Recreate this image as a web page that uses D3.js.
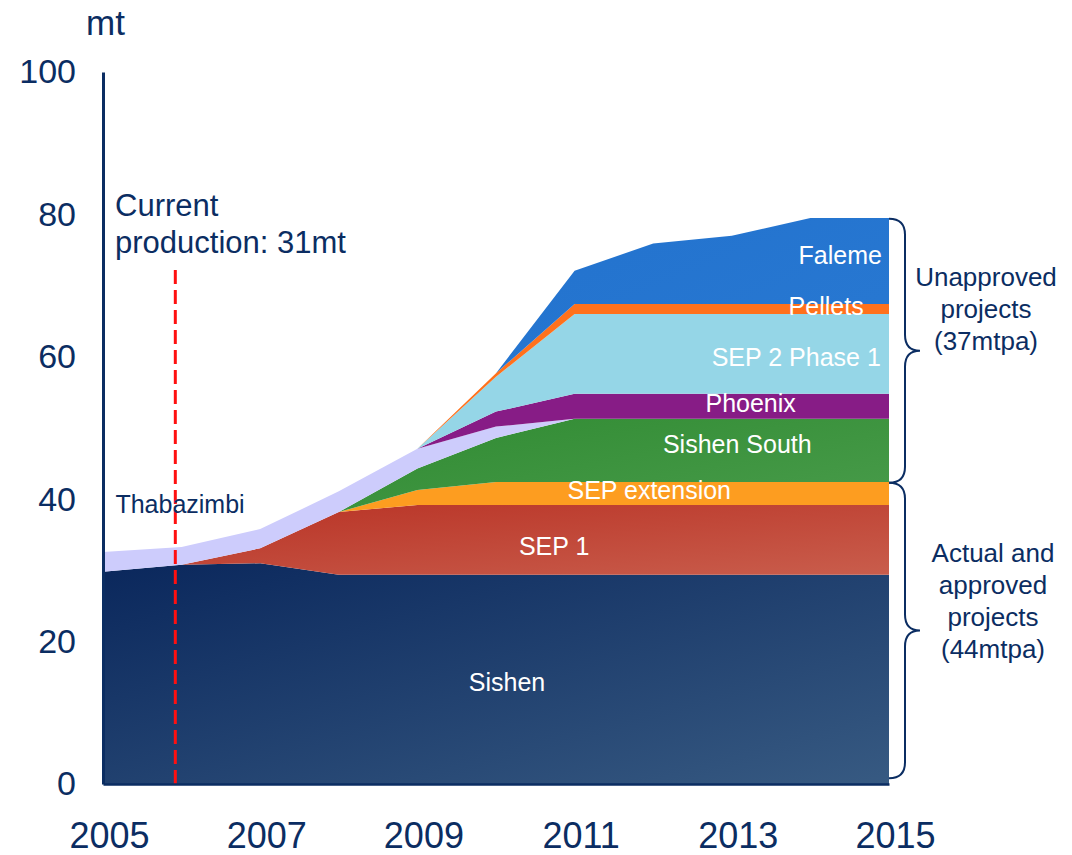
<!DOCTYPE html>
<html>
<head>
<meta charset="utf-8">
<script src="https://cdn.jsdelivr.net/npm/d3@7"></script>
<style>
  html, body { margin: 0; padding: 0; background: #fff; }
  svg { display: block; font-family: "Liberation Sans", Arial, sans-serif; }
</style>
</head>
<body>
<svg id="chart" width="1072" height="855"></svg>
<script>
// ---------------- data ----------------
const years = [2005, 2006, 2007, 2008, 2009, 2010, 2011, 2012, 2013, 2014, 2015];
const seriesNames = ["Sishen", "SEP 1", "SEP extension", "Sishen South", "Thabazimbi", "Phoenix", "SEP 2 Phase 1", "Pellets", "Faleme"];
const sishen      = [29.8, 30.8, 31.0, 29.4, 29.4, 29.4, 29.4, 29.4, 29.4, 29.4, 29.4];
const sep1        = [0, 0, 2.1, 8.8, 9.8, 9.8, 9.8, 9.8, 9.8, 9.8, 9.8];
const sepExt      = [0, 0, 0, 0, 2.1, 3.2, 3.2, 3.2, 3.2, 3.2, 3.2];
const sishenSouth = [0, 0, 0, 0, 3.0, 6.2, 8.9, 8.9, 8.9, 8.9, 8.9];
const thabazimbi  = [2.8, 2.5, 2.7, 2.9, 2.8, 1.6, 0, 0, 0, 0, 0];
const phoenix     = [0, 0, 0, 0, 0, 2.1, 3.5, 3.5, 3.5, 3.5, 3.5];
const sep2        = [0, 0, 0, 0, 0, 4.9, 11.2, 11.2, 11.2, 11.2, 11.2];
const pellets     = [0, 0, 0, 0, 0, 0.5, 1.4, 1.4, 1.4, 1.4, 1.4];
const faleme      = [0, 0, 0, 0, 0, 0, 4.7, 8.5, 9.6, 12.1, 12.1];
const yTicks = [0, 20, 40, 60, 80, 100];
const xTicks = [2005, 2007, 2009, 2011, 2013, 2015];
const currentProductionYear = 2005.92;
const currentProductionTop = 72.2;
const bracketGroups = [
  { from: 42.3, to: 79.4, lines: ["Unapproved", "projects", "(37mtpa)"] },
  { from: 0.8, to: 42.3, lines: ["Actual and", "approved", "projects", "(44mtpa)"] }
];

// ---------------- config ----------------
const navy = "#0b2d62";
const colors = {
  "Sishen": "url(#gSishen)",
  "SEP 1": "url(#gSep1)",
  "SEP extension": "#fd9d20",
  "Sishen South": "url(#gSouth)",
  "Thabazimbi": "#cdccfc",
  "Phoenix": "#871c86",
  "SEP 2 Phase 1": "#95d6e7",
  "Pellets": "#ff711c",
  "Faleme": "url(#gFaleme)"
};
// label placement (year, value) in data space
const labelPos = [
  { name: "Sishen", yr: 2010.14, v: 14.3, color: "#fff" },
  { name: "SEP 1", yr: 2010.74, v: 33.4, color: "#fff" },
  { name: "SEP extension", yr: 2011.95, v: 41.3, color: "#fff" },
  { name: "Sishen South", yr: 2013.07, v: 47.75, color: "#fff" },
  { name: "Phoenix", yr: 2013.24, v: 53.5, color: "#fff" },
  { name: "SEP 2 Phase 1", yr: 2013.82, v: 60.0, color: "#fff" },
  { name: "Pellets", yr: 2014.2, v: 67.1, color: "#fff" },
  { name: "Faleme", yr: 2014.38, v: 74.2, color: "#fff" },
  { name: "Thabazimbi", yr: 2005.98, v: 39.3, color: navy }
];

const svg = d3.select("#chart");
const x = d3.scaleLinear().domain([2005, 2015]).range([103, 889]);
const y = d3.scaleLinear().domain([0, 100]).range([784, 72]);

// gradients
const defs = svg.append("defs");
function grad(id, c1, c2) {
  const g = defs.append("linearGradient").attr("id", id)
    .attr("x1", 0).attr("y1", 0).attr("x2", 1).attr("y2", 1);
  g.append("stop").attr("offset", "0%").attr("stop-color", c1);
  g.append("stop").attr("offset", "100%").attr("stop-color", c2);
}
grad("gSishen", "#0a275c", "#375a82");
grad("gSep1", "#b83124", "#c95d4c");
grad("gSouth", "#2b872d", "#50a152");
grad("gFaleme", "#1f6fcc", "#2c7cd4");

// stacked data
const cols = [sishen, sep1, sepExt, sishenSouth, thabazimbi, phoenix, sep2, pellets, faleme];
const table = years.map((yr, i) => {
  const row = { year: yr };
  seriesNames.forEach((n, k) => row[n] = cols[k][i]);
  return row;
});
const stacked = d3.stack().keys(seriesNames)(table);

const area = d3.area()
  .x(d => x(d.data.year))
  .y0(d => y(d[0]))
  .y1(d => y(d[1]))
  .curve(d3.curveLinear);

svg.append("g").selectAll("path")
  .data(stacked)
  .join("path")
  .attr("d", area)
  .attr("fill", d => colors[d.key])
  .attr("stroke", "none");

// current production dashed line
svg.append("line")
  .attr("x1", x(currentProductionYear)).attr("x2", x(currentProductionYear))
  .attr("y1", y(currentProductionTop)).attr("y2", y(0))
  .attr("stroke", "#ff1010").attr("stroke-width", 3)
  .attr("stroke-dasharray", "14,6");

// axes
const yAxis = svg.append("g").attr("transform", `translate(${x(2005)},0)`)
  .call(d3.axisLeft(y).tickValues(yTicks).tickSize(0).tickSizeOuter(0).tickPadding(27));
yAxis.select(".domain").attr("stroke", navy).attr("stroke-width", 3);
yAxis.selectAll("text").attr("font-size", 34).attr("fill", navy)
  .attr("font-family", "Liberation Sans, Arial, sans-serif");

const xAxis = svg.append("g").attr("transform", `translate(0,${y(0)})`)
  .call(d3.axisBottom(x).tickValues(xTicks).tickFormat(d3.format("d")).tickSize(0).tickSizeOuter(0).tickPadding(38));
xAxis.select(".domain").attr("stroke", navy).attr("stroke-width", 2.5);
xAxis.selectAll("text").attr("font-size", 36).attr("fill", navy).attr("dx", 6)
  .attr("font-family", "Liberation Sans, Arial, sans-serif");

// unit
svg.append("text").attr("x", 86).attr("y", 35).text("mt")
  .attr("font-size", 35).attr("fill", navy);

// current production annotation
const cp = svg.append("text").attr("font-size", 31).attr("fill", navy);
cp.append("tspan").attr("x", 115).attr("y", 216).text("Current");
cp.append("tspan").attr("x", 115).attr("y", 253).text("production: 31mt");

// series labels
svg.append("g").selectAll("text")
  .data(labelPos)
  .join("text")
  .attr("x", d => x(d.yr))
  .attr("y", d => y(d.v))
  .attr("dy", "0.35em")
  .attr("text-anchor", "middle")
  .attr("font-size", 25)
  .attr("fill", d => d.color)
  .text(d => d.name);

// braces
const bx = x(2015);
function bracePath(yTop, yBot) {
  const mid = (yTop + yBot) / 2;
  const vx = bx + 16, tip = bx + 31, r = 16;
  return `M${bx},${yTop} Q${vx},${yTop} ${vx},${yTop + r} L${vx},${mid - r} Q${vx},${mid} ${tip},${mid} ` +
         `Q${vx},${mid} ${vx},${mid + r} L${vx},${yBot - r} Q${vx},${yBot} ${bx},${yBot}`;
}
const bg = svg.append("g");
bracketGroups.forEach((b, i) => {
  const yTop = y(b.to), yBot = y(b.from);
  bg.append("path").attr("d", bracePath(yTop, yBot))
    .attr("fill", "none").attr("stroke", navy).attr("stroke-width", 2);
  const mid = (yTop + yBot) / 2;
  const lh = 32;
  const cx = i === 0 ? 986 : 993;
  const startY = mid - (b.lines.length - 1) * lh / 2 + 9 + (i === 0 ? -42 : -30);
  const t = bg.append("text").attr("text-anchor", "middle").attr("font-size", 26).attr("fill", navy);
  b.lines.forEach((ln, j) => {
    t.append("tspan").attr("x", cx).attr("y", startY + j * lh).text(ln);
  });
});
</script>
</body>
</html>
